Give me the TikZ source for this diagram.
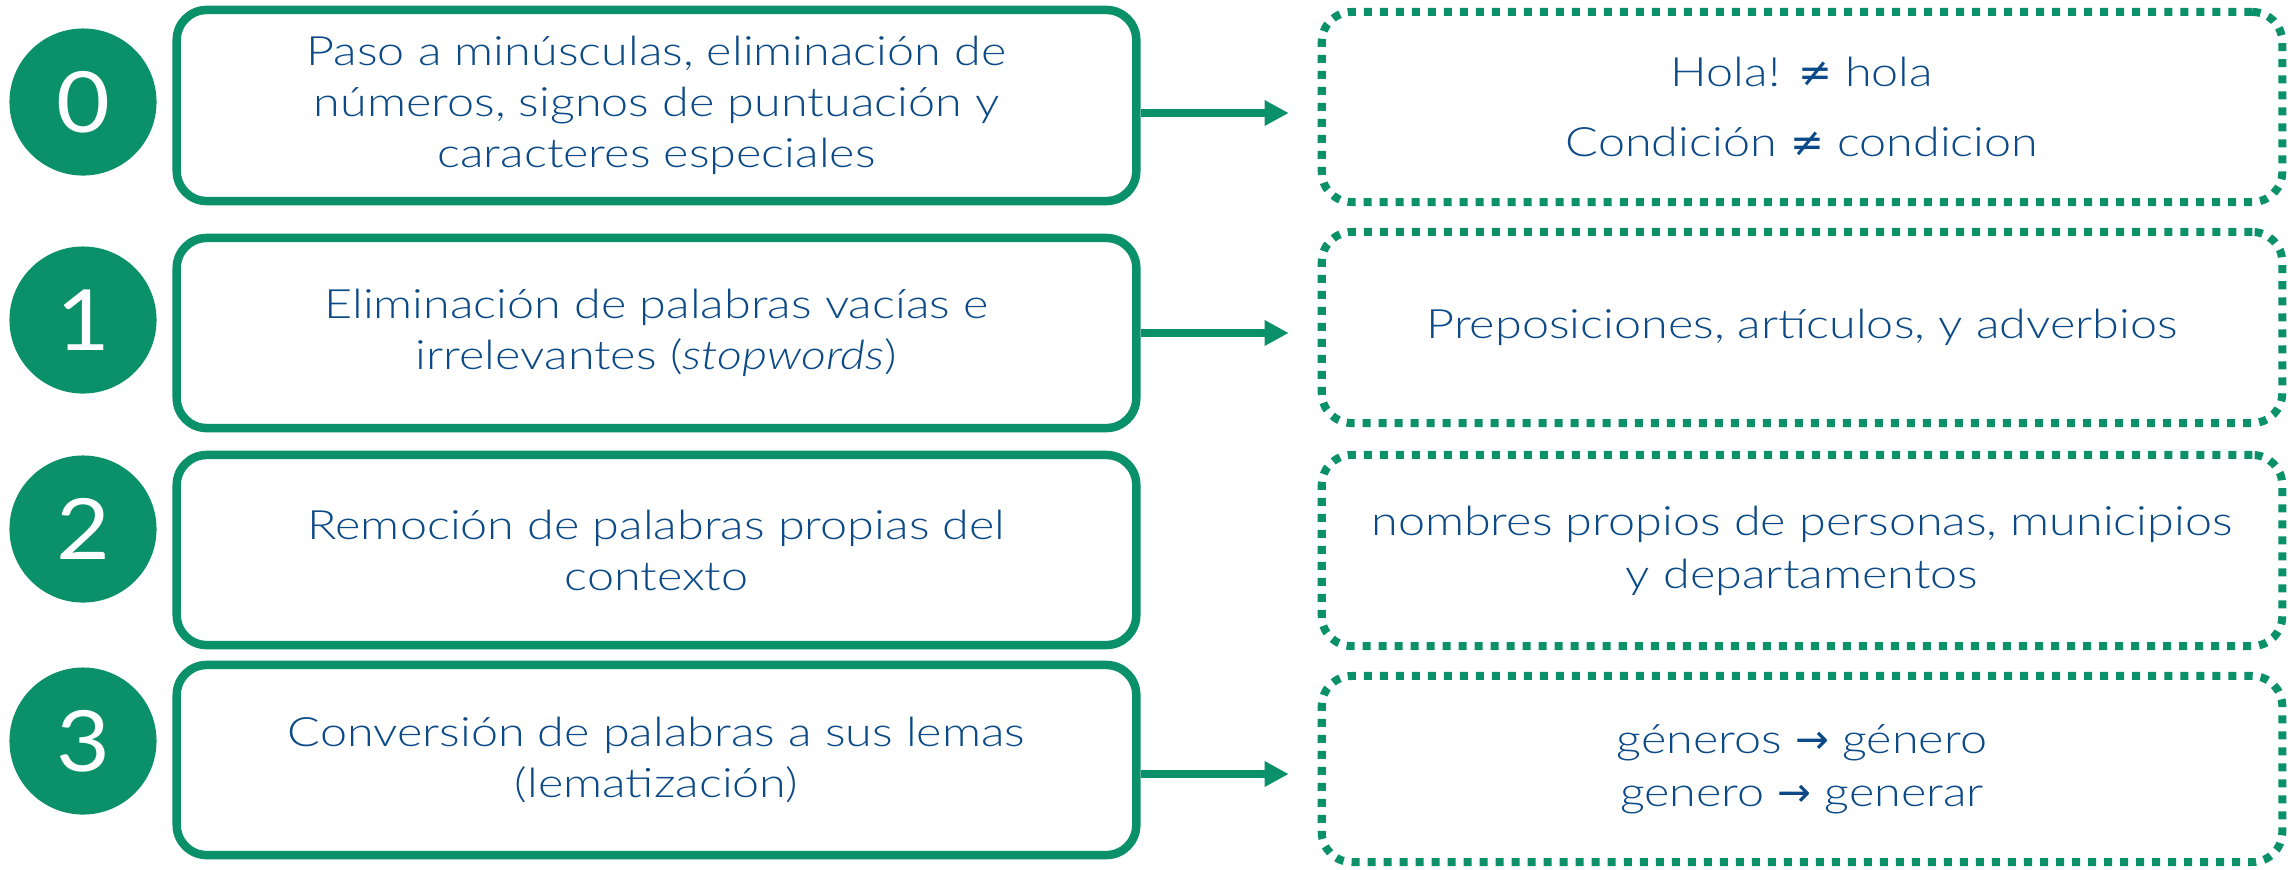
\documentclass[tikz,border=0pt]{standalone}
\usepackage{fontspec}
\setmainfont{Lato}[UprightFont=* Light, ItalicFont=* Light Italic, FakeStretch=1.2]
\newfontfamily\cifras{Lato}[FakeStretch=1.1]
\newfontfamily\simbolos{DejaVu Sans}
\usetikzlibrary{arrows.meta}

\definecolor{verde}{HTML}{0A9169}
\definecolor{azul}{HTML}{0B4A87}

\tikzset{%
  % Specifications for style of nodes:
         paso/.style = {rectangle, rounded corners=0.3cm, draw=verde, line width=0.085cm, minimum width=9.59cm, minimum height=1.9cm, text=azul, align=center, font=\fontsize{11.5}{14.5}\selectfont},
      ejemplo/.style = {rectangle, rounded corners=0.3cm, draw=verde, line width=0.08cm, dash pattern=on 0.08cm off 0.08cm, minimum width=9.6cm, minimum height=1.9cm, text=azul, align=center, font=\fontsize{11.5}{15}\selectfont},
       numero/.style = {circle, fill=verde, minimum size=1.47cm, inner sep=0pt, text=white, font=\cifras\fontsize{24}{24}\selectfont},
       flecha/.style = {-{Triangle[length=0.24cm, width=0.24cm]}, draw=verde, line width=0.08cm, shorten >=0.29cm},
}

\begin{document}
\begin{tikzpicture}[x=0.01cm, y=-0.01cm]
    \useasboundingbox (0,0) rectangle (2292,869);

    % Draw nodes
    \node (n0) [numero] at (83,102) {0};
    \node (n1) [numero] at (83,320) {1};
    \node (n2) [numero] at (83,529) {2};
    \node (n3) [numero] at (83,741) {3};

    \node (b0) [paso, minimum height=1.91cm] at (656.5,105.5) {Paso a minúsculas, eliminación de\\ números, signos de puntuación y\\ caracteres especiales};
    \node (b1) [paso] at (656.5,333) {Eliminación de palabras vacías e\\ irrelevantes (\textit{stopwords})};
    \node (b2) [paso] at (656.5,550) {Remoción de palabras propias del\\ contexto};
    \node (b3) [paso] at (656.5,760) {Conversión de palabras a sus lemas\\ (lematización)};

    \node (r0) [ejemplo] at (1802,107) {Hola! {\simbolos ≠} hola\\[0.17cm] Condición {\simbolos ≠} condicion};
    \node (r1) [ejemplo, minimum height=1.91cm] at (1802,327.5) {Preposiciones, artículos, y adverbios};
    \node (r2) [ejemplo, minimum height=1.91cm] at (1802,550.5) {nombres propios de personas, municipios\\ y departamentos};
    \node (r3) [ejemplo, minimum height=1.86cm] at (1802,769) {géneros {\simbolos →} género\\ genero {\simbolos →} generar};

    % Draw arrows
    \draw[flecha] ([yshift=-0.06cm]b0.east |- r0.west) -- ([yshift=-0.06cm]r0.west);
    \draw[flecha] ([yshift=-0.055cm]b1.east |- r1.west) -- ([yshift=-0.055cm]r1.west);
    \draw[flecha] ([yshift=-0.05cm]b3.east |- r3.west) -- ([yshift=-0.05cm]r3.west);

\end{tikzpicture}
\end{document}
